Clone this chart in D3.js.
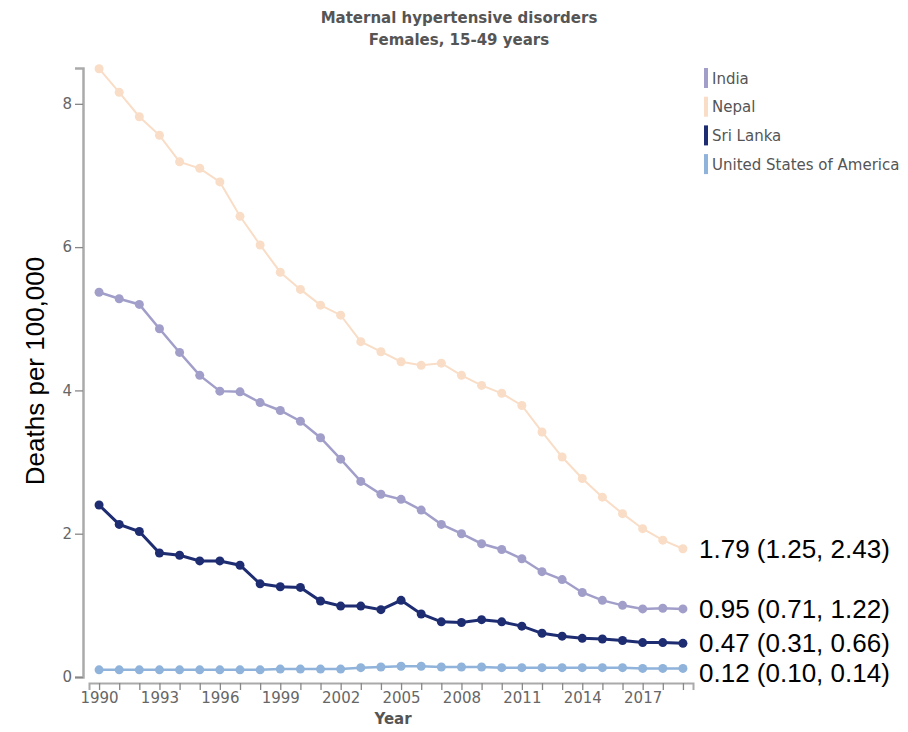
<!DOCTYPE html>
<html>
<head>
<meta charset="utf-8">
<script src="https://cdn.jsdelivr.net/npm/d3@7"></script>
<style>
  body { margin: 0; background: #fff; }
  svg { display: block; }
</style>
</head>
<body>
<script>
// years on the x axis
const years = d3.range(1990, 2020);
// series values, deaths per 100,000
const india = [5.37, 5.28, 5.20, 4.86, 4.53, 4.21, 3.99, 3.98, 3.83, 3.72,
  3.57, 3.34, 3.04, 2.73, 2.55, 2.48, 2.33, 2.13, 2.00, 1.86,
  1.78, 1.65, 1.47, 1.36, 1.18, 1.07, 1.00, 0.95, 0.96, 0.95];
const nepal = [8.49, 8.16, 7.82, 7.56, 7.19, 7.10, 6.91, 6.43, 6.03, 5.65,
  5.41, 5.19, 5.05, 4.68, 4.54, 4.40, 4.35, 4.38, 4.21, 4.07,
  3.96, 3.79, 3.42, 3.07, 2.77, 2.51, 2.28, 2.07, 1.91, 1.79];
const sriLanka = [2.40, 2.13, 2.03, 1.73, 1.70, 1.62, 1.62, 1.56, 1.30, 1.26,
  1.25, 1.06, 0.99, 0.99, 0.94, 1.07, 0.88, 0.77, 0.76, 0.80,
  0.77, 0.71, 0.61, 0.57, 0.54, 0.53, 0.51, 0.48, 0.48, 0.47];
const usa = [0.10, 0.10, 0.10, 0.10, 0.10, 0.10, 0.10, 0.10, 0.10, 0.11,
  0.11, 0.11, 0.11, 0.13, 0.14, 0.15, 0.15, 0.14, 0.14, 0.14,
  0.13, 0.13, 0.13, 0.13, 0.13, 0.13, 0.13, 0.12, 0.12, 0.12];
// legend names and end labels
const names = ["India", "Nepal", "Sri Lanka", "United States of America"];
const endLabels = ["0.95 (0.71, 1.22)", "1.79 (1.25, 2.43)", "0.47 (0.31, 0.66)", "0.12 (0.10, 0.14)"];
const yTicks = [0, 2, 4, 6, 8];
const xTicks = d3.range(1990, 2020, 3);

const colors = ["#a19fc9", "#f9ddc6", "#1e2d72", "#8fb3da"];
const widths = [2.5, 2, 3, 2.5];
const allSeries = [india, nepal, sriLanka, usa];
const smallFont = "DejaVu Sans, Verdana, sans-serif";
const bigFont = "Liberation Sans, Arial, sans-serif";

const w = 908, h = 732;
const svg = d3.select("body").append("svg")
  .attr("width", w).attr("height", h);

// scales
const xScale = d3.scaleLinear().domain([1989.5, 2019.5]).range([89, 693]);
const yScale = d3.scaleLinear().domain([0, 8.5]).range([677, 68]);

// title
const title = svg.append("text")
  .attr("text-anchor", "middle")
  .attr("font-family", smallFont)
  .attr("font-size", 15).attr("font-weight", "bold").attr("fill", "#555");
title.append("tspan").attr("x", 459).attr("y", 23).text("Maternal hypertensive disorders");
title.append("tspan").attr("x", 459).attr("y", 45).text("Females, 15-49 years");

// y axis
const yAxisG = svg.append("g")
  .attr("transform", "translate(83,0)")
  .call(d3.axisLeft(yScale).tickValues(yTicks).tickSize(8).tickSizeOuter(8)
    .tickPadding(3).tickFormat(d3.format("d")));
yAxisG.select(".domain").attr("stroke", "#aaa").attr("stroke-width", 2.5);
yAxisG.selectAll(".tick line").attr("stroke", "#888").attr("stroke-width", 1.3);
yAxisG.selectAll("text").attr("fill", "#666")
  .attr("font-family", smallFont).attr("font-size", 15);

// x axis
const xAxisG = svg.append("g")
  .attr("transform", "translate(0,683)")
  .call(d3.axisBottom(xScale).tickValues(years).tickSize(7).tickSizeOuter(7)
    .tickPadding(2).tickFormat(d => xTicks.includes(d) ? d : ""));
xAxisG.select(".domain").attr("stroke", "#aaa").attr("stroke-width", 2);
xAxisG.selectAll(".tick line").attr("stroke", "#888").attr("stroke-width", 1.3);
xAxisG.selectAll("text").attr("fill", "#666")
  .attr("font-family", smallFont).attr("font-size", 15);

// axis titles
svg.append("text")
  .attr("x", 393).attr("y", 724).attr("text-anchor", "middle")
  .attr("font-family", smallFont)
  .attr("font-size", 15).attr("font-weight", "bold").attr("fill", "#555")
  .text("Year");
svg.append("text")
  .attr("transform", "translate(44,371) rotate(-90)")
  .attr("text-anchor", "middle")
  .attr("font-family", bigFont)
  .attr("font-size", 26).attr("fill", "#000")
  .text("Deaths per 100,000");

// lines and dots
const line = d3.line().x((d, i) => xScale(years[i])).y(d => yScale(d));
const drawOrder = [1, 0, 3, 2];
drawOrder.forEach(k => {
  const g = svg.append("g");
  g.append("path")
    .datum(allSeries[k])
    .attr("fill", "none")
    .attr("stroke", colors[k])
    .attr("stroke-width", widths[k])
    .attr("d", line);
  g.selectAll("circle")
    .data(allSeries[k])
    .enter()
    .append("circle")
    .attr("cx", (d, i) => xScale(years[i]))
    .attr("cy", d => yScale(d))
    .attr("r", 4.5)
    .attr("fill", colors[k]);
});

// end labels, pushed apart so they don't overlap
const labelPos = allSeries.map((s, k) => ({ k: k, y: yScale(s[s.length - 1]) }))
  .sort((a, b) => a.y - b.y);
for (let i = 1; i < labelPos.length; i++) {
  if (labelPos[i].y - labelPos[i - 1].y < 30) labelPos[i].y = labelPos[i - 1].y + 30;
}
labelPos.forEach(p => {
  svg.append("text")
    .attr("x", 699).attr("y", p.y + 9)
    .attr("font-family", bigFont)
    .attr("font-size", 26).attr("fill", "#000")
    .text(endLabels[p.k]);
});

// legend
const legend = svg.append("g").attr("transform", "translate(704,68)");
names.forEach((n, i) => {
  legend.append("rect")
    .attr("x", 0).attr("y", i * 28.7)
    .attr("width", 4).attr("height", 20)
    .attr("fill", colors[i]);
  legend.append("text")
    .attr("x", 8).attr("y", i * 28.7 + 15.5)
    .attr("font-family", smallFont)
    .attr("font-size", 15).attr("fill", "#555")
    .text(n);
});
</script>
</body>
</html>
